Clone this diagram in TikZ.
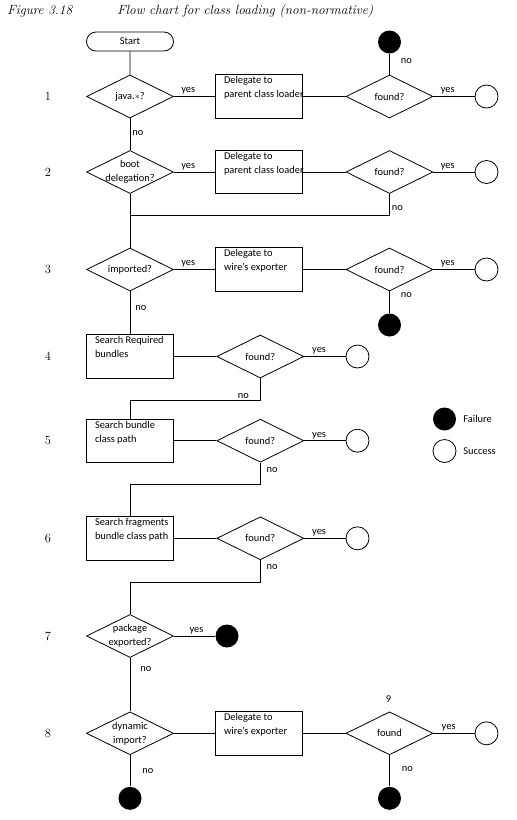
\documentclass[tikz,border=0pt]{standalone}
\usepackage{fontspec}
\usetikzlibrary{shapes.geometric,shapes.misc}
\newfontfamily\chartfont{Carlito}

\begin{document}
\begin{tikzpicture}[x=1pt,y=-1pt,line width=0.8pt,
  chart/.style={font=\chartfont\fontsize{10.4}{14}\selectfont},
  decision/.style={diamond,draw,minimum width=87pt,minimum height=43pt},
  process/.style={rectangle,draw,minimum width=87pt,minimum height=43.5pt},
  ptext/.style={chart,align=left,anchor=north west,xshift=8.5pt,yshift=-2pt},
  dtext/.style={chart,align=center},
  startbox/.style={rounded rectangle,draw,minimum width=87pt,minimum height=19pt,chart},
  fail/.style={circle,fill=black,minimum size=23pt},
  success/.style={circle,draw,minimum size=23pt},
  yesl/.style={chart,above=1.5pt},
  nol/.style={chart,right=2pt},
  rownum/.style={font=\fontsize{12.5}{14}\selectfont},
  caption/.style={anchor=west,font=\itshape\fontsize{13.3}{15}\selectfont}]
\tikzstyle{every node}+=[inner sep=0pt]
\useasboundingbox (0,0) rectangle (517,820);
\node[caption] (fig) at (7,11) {Figure 3.18};
\node[caption] (title) at (117,11) {Flow chart for class loading (non-normative)};
\foreach \n/\y in {1/96.5,2/172,3/269.5,4/356.5,5/440.7,6/538.3,7/636,8/733.3}
  \node[rownum] (row\n) at (48,\y) {\n};
\node[startbox] (start) at (130,41.5) {Start};
% 1
\node[decision] (q1) at (130,96.5) {};
\node[dtext] (q1t) at (q1) {java.$\ast$?};
\node[process] (d1) at (259,96.5) {};
\node[ptext] (d1t) at (d1.north west) {Delegate to\\parent class loader};
\node[decision] (f1) at (389.5,96.5) {};
\node[dtext] (f1t) at (f1) {found?};
\node[fail] (x1) at (389.5,42) {};
\node[success] (s1) at (486.5,96.5) {};
% 2
\node[decision] (q2) at (130,172) {};
\node[dtext] (q2t) at (q2) {boot\\delegation?};
\node[process] (d2) at (259,172) {};
\node[ptext] (d2t) at (d2.north west) {Delegate to\\parent class loader};
\node[decision] (f2) at (389.5,172) {};
\node[dtext] (f2t) at (f2) {found?};
\node[success] (s2) at (486.5,172) {};
\coordinate (c2) at (389.5,215);
\coordinate (j2) at (130,215);
% 3
\node[decision] (q3) at (130,269.5) {};
\node[dtext] (q3t) at (q3) {imported?};
\node[process] (d3) at (259,269.5) {};
\node[ptext] (d3t) at (d3.north west) {Delegate to\\wire’s exporter};
\node[decision] (f3) at (389.5,269.5) {};
\node[dtext] (f3t) at (f3) {found?};
\node[fail] (x3) at (389.5,325) {};
\node[success] (s3) at (486.5,269.5) {};
% 4
\node[process] (b4) at (130,356.5) {};
\node[ptext] (b4t) at (b4.north west) {Search Required\\bundles};
\node[decision] (f4) at (260.3,356.5) {};
\node[dtext] (f4t) at (f4) {found?};
\node[success] (s4) at (357.5,356.5) {};
\coordinate (c4) at (260.3,400.7);
% 5
\node[process] (b5) at (130,440.7) {};
\node[ptext] (b5t) at (b5.north west) {Search bundle\\class path};
\node[decision] (f5) at (260.3,440.7) {};
\node[dtext] (f5t) at (f5) {found?};
\node[success] (s5) at (357.5,440.7) {};
\coordinate (c5) at (260.3,484);
% 6
\node[process] (b6) at (130,538.3) {};
\node[ptext] (b6t) at (b6.north west) {Search fragments\\bundle class path};
\node[decision] (f6) at (260.3,538.3) {};
\node[dtext] (f6t) at (f6) {found?};
\node[success] (s6) at (357.5,538.3) {};
\coordinate (c6) at (260.3,582.3);
% 7
\node[decision] (q7) at (130,636) {};
\node[dtext] (q7t) at (q7) {package\\exported?};
\node[fail] (x7) at (227,636) {};
% 8
\node[decision] (q8) at (130,733.3) {};
\node[dtext] (q8t) at (q8) {dynamic\\import?};
\node[process] (d8) at (259,733.3) {};
\node[ptext] (d8t) at (d8.north west) {Delegate to\\wire’s exporter};
\node[decision] (f8) at (389.5,733.3) {};
\node[dtext] (f8t) at (f8) {found};
\node[chart] (nine) at (388.5,699) {9};
\node[success] (s8) at (486.5,733.3) {};
\node[fail] (x8) at (389.5,798.3) {};
\node[fail] (x9) at (130,798.3) {};
% legend
\node[fail] (lf) at (444.5,419) {};
\node[chart,anchor=west] (lft) at (463,419) {Failure};
\node[success] (ls) at (444.5,451) {};
\node[chart,anchor=west] (lst) at (463,451) {Success};

\draw (start) -- (q1);
\draw (q1.east) -- node[yesl,pos=0.35] (y1) {yes} (d1.west);
\draw (d1.east) -- (f1.west);
\draw (f1.east) -- node[yesl,pos=0.35] (y1b) {yes} (s1.west);
\draw (f1.north) -- node[nol,pos=0.65,right=9pt] (n1b) {no} (x1.south);
\draw (q1.south) -- node[nol,pos=0.47] (n1) {no} (q2.north);
\draw (q2.east) -- node[yesl,pos=0.35] (y2) {yes} (d2.west);
\draw (d2.east) -- (f2.west);
\draw (f2.east) -- node[yesl,pos=0.35] (y2b) {yes} (s2.west);
\draw (f2.south) -- node[nol,pos=0.67] (n2b) {no} (c2) -- (j2);
\draw (q2.south) -- (q3.north);
\draw (q3.east) -- node[yesl,pos=0.35] (y3) {yes} (d3.west);
\draw (d3.east) -- (f3.west);
\draw (f3.east) -- node[yesl,pos=0.35] (y3b) {yes} (s3.west);
\draw (f3.south) -- node[nol,pos=0.18,right=9pt] (n3b) {no} (x3.north);
\draw (q3.south) -- node[nol,pos=0.38,right=3pt] (n3) {no} (b4.north);
\draw (b4.east) -- (f4.west);
\draw (f4.east) -- node[yesl,pos=0.36] (y4) {yes} (s4.west);
\draw (f4.south) -- (c4) -- node[yesl,pos=0.13] (n4) {no} (c4 -| b5.north) -- (b5.north);
\draw (b5.east) -- (f5.west);
\draw (f5.east) -- node[yesl,pos=0.36] (y5) {yes} (s5.west);
\draw (f5.south) -- node[nol,pos=0.35,right=4pt] (n5) {no} (c5) -| (b6.north);
\draw (b6.east) -- (f6.west);
\draw (f6.east) -- node[yesl,pos=0.36] (y6) {yes} (s6.west);
\draw (f6.south) -- node[nol,pos=0.3,right=4pt] (n6) {no} (c6) -| (q7.north);
\draw (q7.east) -- node[yesl,pos=0.55] (y7) {yes} (x7.west);
\draw (q7.south) -- node[nol,pos=0.21,right=8pt] (n7) {no} (q8.north);
\draw (q8.east) -- (d8.west);
\draw (d8.east) -- (f8.west);
\draw (f8.east) -- node[yesl,pos=0.37] (y8) {yes} (s8.west);
\draw (f8.south) -- node[nol,pos=0.45,right=10pt] (n8b) {no} (x8.north);
\draw (q8.south) -- node[nol,pos=0.52,right=10pt] (n8) {no} (x9.north);
\end{tikzpicture}
\end{document}
